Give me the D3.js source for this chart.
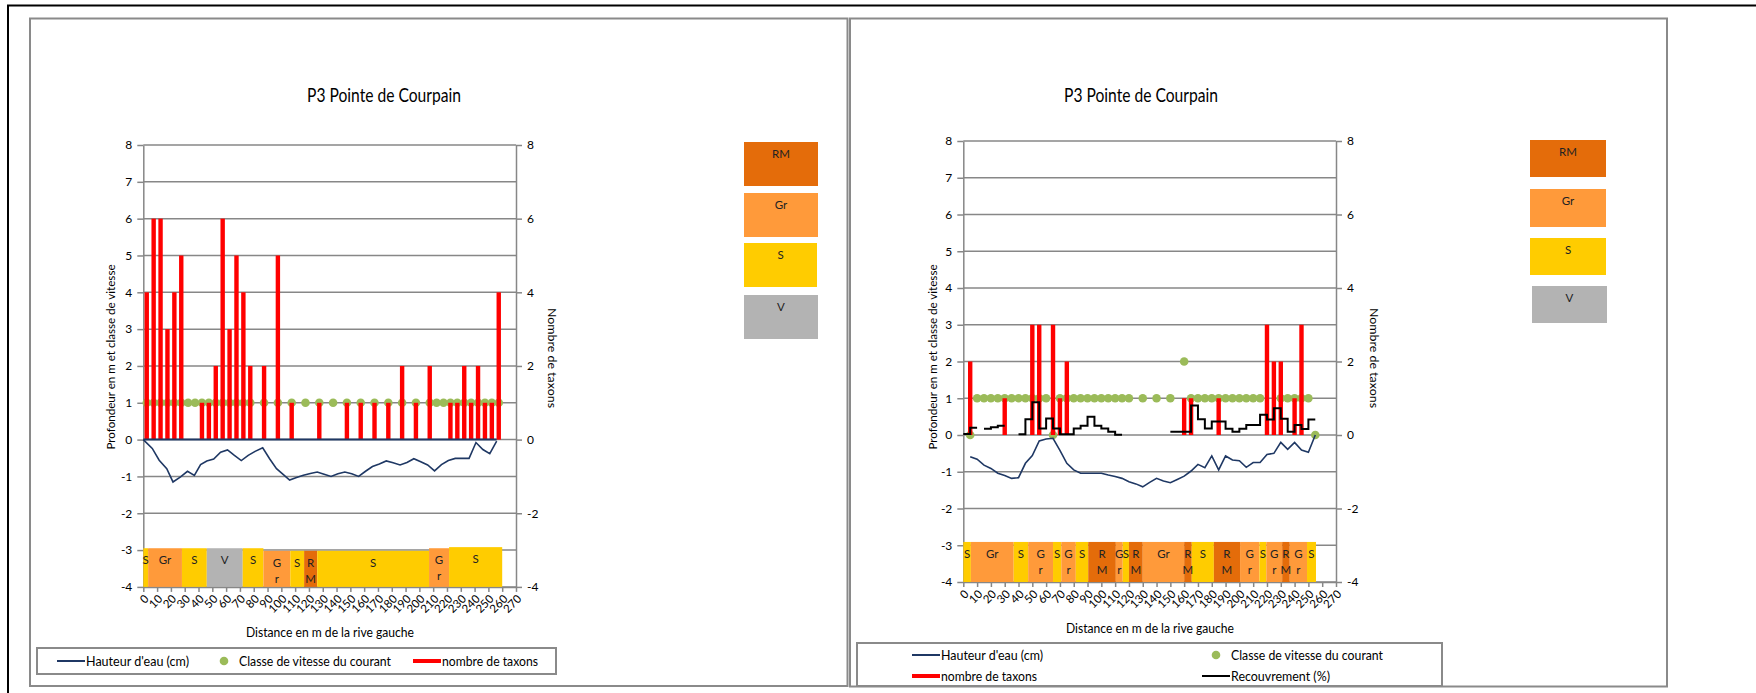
<!DOCTYPE html>
<html><head><meta charset="utf-8">
<script src="https://cdn.jsdelivr.net/npm/d3@7"></script>
<style>body{margin:0;background:#fff} svg{display:block} text{font-family:Lato,"Open Sans","Liberation Sans",sans-serif;}</style>
</head><body>
<svg id="c" width="1756" height="693"></svg>
<script>
// ---------- shared ----------
const chartTitle = "P3 Pointe de Courpain";
const xTitle = "Distance en m de la rive gauche";
const yLeftTitle = "Profondeur en m et classe de vitesse";
const yRightTitle = "Nombre de taxons";
const xTickLabels = [0,10,20,30,40,50,60,70,80,90,100,110,120,130,140,150,160,170,180,190,200,210,220,230,240,250,260,270];
const yTicksLeft = [-4,-3,-2,-1,0,1,2,3,4,5,6,7,8];
const yTicksRight = [-4,-2,0,2,4,6,8];
const substrateTypes = ["RM","Gr","S","V"];
const substrateColors = ["#E46C0A","#FF9A3A","#FFCC00","#B3B3B3"];
const seriesNames = ["Hauteur d'eau (cm)","Classe de vitesse du courant","nombre de taxons","Recouvrement (%)"];

// ---------- left chart data ----------
const leftTaxaX = [2.5,7.5,12.5,17.5,22.5,27.5,42.5,47.5,52.5,57.5,62.5,67.5,72.5,77.5,87.5,97.5,107.5,127.5,147.5,157.5,167.5,177.5,187.5,197.5,207.5,222.5,227.5,232.5,237.5,242.5,247.5,252.5,257.5];
const leftTaxaN = [4,6,6,3,4,5,1,1,2,6,3,5,4,2,2,5,1,1,1,1,1,1,2,1,2,1,1,2,1,2,1,1,4];
const leftVitX = [2.5,7.5,12.5,17.5,22.5,27.5,32.5,37.5,42.5,47.5,52.5,57.5,62.5,67.5,72.5,77.5,87.5,97.5,107.5,117.5,127.5,137.5,147.5,157.5,167.5,177.5,187.5,197.5,207.5,212.5,217.5,222.5,227.5,232.5,237.5,242.5,247.5,252.5,257.5];
const leftVitY = [1,1,1,1,1,1,1,1,1,1,1,1,1,1,1,1,1,1,1,1,1,1,1,1,1,1,1,1,1,1,1,1,1,1,1,1,1,1,1];
const leftDepthX = [0,6.5,11.5,17,21.5,27,32,37,41.5,46,51,56,61,66,71,76,81,86.5,91.5,96.5,101.5,106,111,116,121,126,131,136,141,146,151,156,161,166,171,176,181,186,191,196,201,206,211,216,221,226,231,236,241,246,251,256];
const leftDepthY = [0,-0.24,-0.56,-0.79,-1.15,-1.01,-0.86,-0.97,-0.68,-0.58,-0.53,-0.34,-0.28,-0.43,-0.57,-0.43,-0.32,-0.22,-0.52,-0.79,-0.95,-1.10,-1.03,-0.97,-0.92,-0.88,-0.94,-1.00,-0.93,-0.88,-0.93,-1.00,-0.86,-0.73,-0.66,-0.58,-0.63,-0.69,-0.62,-0.52,-0.60,-0.69,-0.85,-0.68,-0.57,-0.51,-0.51,-0.51,-0.08,-0.27,-0.38,-0.04];
const leftSurfX = [0,256];
const leftSurfY = [0,0];
const leftSubStart = [0,3.5,28,46,72,87,106.5,116.5,126,207,221.5];
const leftSubEnd = [3.5,28,46,72,87,106.5,116.5,126,207,221.5,260];
const leftSubType = ["S","Gr","S","V","S","Gr","S","RM","S","Gr","S"];
const leftSubLabel = ["S","Gr","S","V","S","G\nr","S","R\nM","S","G\nr","S"];
const leftSubTop = [-2.95,-2.95,-2.95,-2.95,-2.95,-3.02,-3.02,-3.02,-3.02,-2.95,-2.92];

// ---------- right chart data ----------
const rightTaxaX = [5,30,50,55,65,70,75,160,165,185,220,225,230,240,245];
const rightTaxaN = [2,1,3,3,3,1,2,1,1,1,3,2,2,1,3];
const rightVitX = [5,10,15,20,25,30,35,40,45,50,55,60,65,70,75,80,85,90,95,100,105,110,115,120,130,140,150,160,165,170,175,180,185,190,195,200,205,210,215,230,235,240,245,250,255];
const rightVitY = [0,1,1,1,1,1,1,1,1,1,1,1,0,1,1,1,1,1,1,1,1,1,1,1,1,1,1,2,1,1,1,1,1,1,1,1,1,1,1,1,1,1,1,1,0];
const rightDepthX = [5,10,15,20,25,30,35,40,45,50,55,60,65,70,75,80,85,90,95,100,105,110,115,120,125,130,135,140,145,150,155,160,165,170,175,180,185,190,195,200,205,210,215,220,225,230,235,240,245,250,255];
const rightDepthY = [-0.59,-0.66,-0.82,-0.91,-1.04,-1.10,-1.18,-1.16,-0.77,-0.56,-0.16,-0.11,-0.09,-0.42,-0.77,-0.95,-1.04,-1.04,-1.04,-1.04,-1.09,-1.13,-1.18,-1.27,-1.33,-1.41,-1.29,-1.18,-1.25,-1.30,-1.21,-1.12,-0.98,-0.80,-0.89,-0.57,-0.95,-0.57,-0.68,-0.70,-0.88,-0.75,-0.75,-0.53,-0.50,-0.20,-0.39,-0.20,-0.41,-0.47,0];
const rightCovX = [0,5,10,null,15,20,25,30,null,40,45,50,55,60,65,70,80,85,90,95,100,105,110,115,null,150,165,170,175,180,190,195,200,205,215,220,225,230,235,240,245,250,255];
const rightCovY = [0.03,0.2,0.2,null,0.17,0.21,0.25,0.25,null,0.02,0.43,0.89,0.18,0.45,0.18,0.02,0.18,0.25,0.5,0.25,0.18,0.09,0.01,0.01,null,0.09,0.8,0.43,0.18,0.37,0.17,0.09,0.17,0.27,0.55,0.42,0.73,0.44,0.09,0.27,0.16,0.42,0.42];
const rightSubStart = [0,5.5,36.5,47,65,71,81.5,90.5,110.5,115.5,120,130,160,165.5,181.5,200.5,214.5,219.5,231,236.5,249];
const rightSubEnd = [5.5,36.5,47,65,71,81.5,90.5,110.5,115.5,120,130,160,165.5,181.5,200.5,214.5,219.5,231,236.5,249,255.5];
const rightSubType = ["S","Gr","S","Gr","S","Gr","S","RM","Gr","S","RM","Gr","RM","S","RM","Gr","S","Gr","RM","Gr","S"];
const rightSubLabel = ["S","Gr","S","G\nr","S","G\nr","S","R\nM","G\nr","S","R\nM","Gr","R\nM","S","R\nM","G\nr","S","G\nr","R\nM","G\nr","S"];
const rightSubTop = rightSubType.map(() => -2.91);

// ---------- drawing ----------
const svg = d3.select("#c");
const GRID = "#878787", NAVY = "#1F3864", GREEN = "#9BBB59", RED = "#FF0000";
const colorOf = t => substrateColors[substrateTypes.indexOf(t)];

// outer frame & panels
svg.append("line").attr("x1",7).attr("x2",1756).attr("y1",5.5).attr("y2",5.5).attr("stroke","#000").attr("stroke-width",2);
svg.append("line").attr("x1",8).attr("x2",8).attr("y1",5).attr("y2",693).attr("stroke","#000").attr("stroke-width",2);
svg.append("rect").attr("x",30).attr("y",18.5).attr("width",817.5).attr("height",667.5).attr("fill","none").attr("stroke","#8a8a8a").attr("stroke-width",2);
svg.append("rect").attr("x",850).attr("y",18.5).attr("width",817).attr("height",668).attr("fill","none").attr("stroke","#8a8a8a").attr("stroke-width",2);

function drawChart(c) {
  const x = d3.scaleLinear().domain([0,270]).range([c.x0,c.x1]);
  const y = d3.scaleLinear().domain([-4,8]).range([c.yb,c.yt]);
  const g = svg.append("g");

  // gridlines
  g.append("g").selectAll("line").data(yTicksLeft).join("line")
    .attr("x1",c.x0).attr("x2",c.x1).attr("y1",d=>y(d)).attr("y2",d=>y(d))
    .attr("stroke",GRID).attr("stroke-width",1.5);

  // axes
  const styleAxis = sel => {
    sel.select(".domain").attr("stroke",GRID).attr("stroke-width",1.5);
    sel.selectAll(".tick line").attr("stroke",GRID).attr("stroke-width",1.5);
    sel.selectAll(".tick text").attr("fill","#000").style("font-size","12px");
  };
  g.append("g").attr("transform",`translate(${c.x0},0)`)
    .call(d3.axisLeft(y).tickValues(yTicksLeft).tickSize(6).tickSizeOuter(0).tickPadding(5).tickFormat(String)).call(styleAxis);
  g.append("g").attr("transform",`translate(${c.x1},0)`)
    .call(d3.axisRight(y).tickValues(yTicksRight).tickSize(6).tickSizeOuter(0).tickPadding(5).tickFormat(String)).call(styleAxis);
  const xa = g.append("g").attr("transform",`translate(0,${c.yb})`)
    .call(d3.axisBottom(x).tickValues(xTickLabels).tickSize(5).tickSizeOuter(0).tickFormat(String)).call(styleAxis);
  xa.selectAll(".tick text").attr("x",-5).attr("y",9).attr("dy","0.35em")
    .attr("transform","rotate(-45)").style("text-anchor","end").style("font-size","11.5px");

  // substrate band
  const sub = c.subType.map((t,i)=>({t, s:c.subStart[i], e:c.subEnd[i], top:c.subTop[i], lab:c.subLabel[i]}));
  g.append("g").selectAll("rect").data(sub).join("rect")
    .attr("x",d=>x(d.s)).attr("width",d=>x(d.e)-x(d.s))
    .attr("y",d=>y(d.top)).attr("height",d=>y(-4)-y(d.top))
    .attr("fill",d=>colorOf(d.t));
  const lab = g.append("g").selectAll("text").data(sub).join("text")
    .attr("x",d=>(x(d.s)+x(d.e))/2).attr("y",d=>y(d.top)+16)
    .attr("text-anchor","middle").style("font-size","11.5px").attr("fill","#222");
  lab.each(function(d){
    const parts = d.lab.split("\n");
    d3.select(this).selectAll("tspan").data(parts).join("tspan")
      .attr("x",(x(d.s)+x(d.e))/2).attr("dy",(p,i)=>i===0?0:16).text(p=>p);
  });

  // velocity dots
  g.append("g").selectAll("circle").data(c.vitX.map((v,i)=>[v,c.vitY[i]])).join("circle")
    .attr("cx",d=>x(d[0])).attr("cy",d=>y(d[1])).attr("r",4.3).attr("fill",GREEN);

  // taxa bars
  g.append("g").selectAll("rect").data(c.taxaX.map((v,i)=>[v,c.taxaN[i]])).join("rect")
    .attr("x",d=>x(d[0])-2.2).attr("width",4.4)
    .attr("y",d=>y(d[1])).attr("height",d=>y(0)-y(d[1])).attr("fill",RED);

  // surface line
  if (c.surfX) {
    g.append("path").datum(c.surfX.map((v,i)=>[v,c.surfY[i]]))
      .attr("d",d3.line().x(d=>x(d[0])).y(d=>y(d[1])))
      .attr("fill","none").attr("stroke",NAVY).attr("stroke-width",2);
  }
  // depth line
  g.append("path").datum(c.depthX.map((v,i)=>[v,c.depthY[i]]))
    .attr("d",d3.line().x(d=>x(d[0])).y(d=>y(d[1])))
    .attr("fill","none").attr("stroke",NAVY).attr("stroke-width",1.6);

  // cover step line
  if (c.covX) {
    g.append("path").datum(c.covX.map((v,i)=>[v,c.covY[i]]))
      .attr("d",d3.line().defined(d=>d[0]!==null && d[1]!==null).curve(d3.curveStepAfter).x(d=>x(d[0])).y(d=>y(d[1])))
      .attr("fill","none").attr("stroke","#000").attr("stroke-width",2);
  }

  // titles
  svg.append("text").attr("x",c.titleX).attr("y",102).attr("text-anchor","middle")
    .style("font-size","19px").attr("textLength",154).attr("lengthAdjust","spacingAndGlyphs").text(chartTitle);
  svg.append("text").attr("x",c.xTitleX).attr("y",c.xTitleY).attr("text-anchor","middle")
    .style("font-size","12.5px").attr("textLength",168).attr("lengthAdjust","spacingAndGlyphs").text(xTitle);
  svg.append("text").attr("transform",`translate(${c.ylX},357) rotate(-90)`).attr("text-anchor","middle")
    .style("font-size","11px").attr("textLength",185).attr("lengthAdjust","spacingAndGlyphs").text(yLeftTitle);
  svg.append("text").attr("transform",`translate(${c.yrX},358) rotate(90)`).attr("text-anchor","middle")
    .style("font-size","11px").attr("textLength",100).attr("lengthAdjust","spacingAndGlyphs").text(yRightTitle);

  // substrate legend boxes
  substrateTypes.forEach((t,i)=>{
    const b = c.boxes[i];
    svg.append("rect").attr("x",b[0]).attr("y",b[1]).attr("width",b[2]).attr("height",b[3]).attr("fill",substrateColors[i]);
    svg.append("text").attr("x",b[0]+b[2]/2).attr("y",b[1]+16).attr("text-anchor","middle")
      .style("font-size","11.5px").attr("fill","#222").text(t);
  });

  // series legend
  const L = c.legend;
  svg.append("rect").attr("x",L.box[0]).attr("y",L.box[1]).attr("width",L.box[2]).attr("height",L.box[3])
    .attr("fill","#fff").attr("stroke","#8a8a8a").attr("stroke-width",2);
  L.items.forEach(it=>{
    const [kind, sx, sy, tw, name] = it;
    if (kind==="dot") svg.append("circle").attr("cx",sx+14).attr("cy",sy).attr("r",4.3).attr("fill",GREEN);
    else svg.append("line").attr("x1",sx).attr("x2",sx+28).attr("y1",sy).attr("y2",sy)
      .attr("stroke",kind==="navy"?NAVY:kind==="red"?RED:"#000").attr("stroke-width",kind==="red"?4:2);
    svg.append("text").attr("x",sx+29).attr("y",sy+4.5).style("font-size","12.5px")
      .attr("textLength",tw).attr("lengthAdjust","spacingAndGlyphs").text(name);
  });
}

drawChart({
  x0:143.3, x1:516, yt:145, yb:586.9,
  taxaX:leftTaxaX, taxaN:leftTaxaN, vitX:leftVitX, vitY:leftVitY,
  depthX:leftDepthX, depthY:leftDepthY, surfX:leftSurfX, surfY:leftSurfY,
  subStart:leftSubStart, subEnd:leftSubEnd, subType:leftSubType, subLabel:leftSubLabel, subTop:leftSubTop,
  titleX:384, xTitleX:330, xTitleY:637, ylX:115, yrX:548,
  boxes:[[744,142,74,44],[744,193,74,44],[744,243,73,44],[744,295,74,44]],
  legend:{box:[37,648,519,26], items:[
    ["navy",57,661,103,seriesNames[0]],
    ["dot",210,661,152,seriesNames[1]],
    ["red",413,661,96,seriesNames[2]]
  ]}
});
drawChart({
  x0:963.3, x1:1336, yt:141, yb:582,
  taxaX:rightTaxaX, taxaN:rightTaxaN, vitX:rightVitX, vitY:rightVitY,
  depthX:rightDepthX, depthY:rightDepthY, covX:rightCovX, covY:rightCovY,
  subStart:rightSubStart, subEnd:rightSubEnd, subType:rightSubType, subLabel:rightSubLabel, subTop:rightSubTop,
  titleX:1141, xTitleX:1150, xTitleY:633, ylX:937, yrX:1370,
  boxes:[[1530,140,76,37],[1530,189,76,38],[1530,238,76,37],[1532,286,75,37]],
  legend:{box:[857,643,585,43], items:[
    ["navy",912,655,102,seriesNames[0]],
    ["dot",1202,655,152,seriesNames[1]],
    ["red",912,676,96,seriesNames[2]],
    ["black",1202,676,99,seriesNames[3]]
  ]}
});
</script>
</body></html>
